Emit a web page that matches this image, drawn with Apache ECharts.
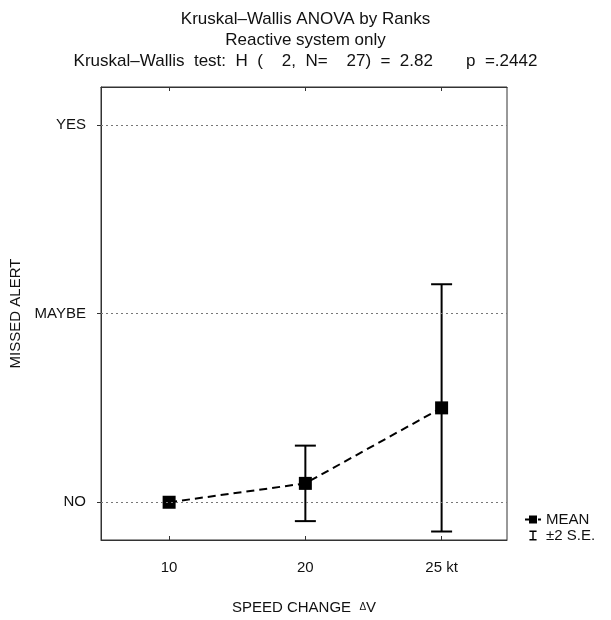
<!DOCTYPE html>
<html>
<head>
<meta charset="utf-8">
<script src="https://cdn.jsdelivr.net/npm/echarts@6/dist/echarts.min.js"></script>
<style>html,body{margin:0;padding:0;background:#fff}#c{width:611px;height:620px}</style>
</head>
<body>
<div id="c"></div>
<script>
// ---- data ----
var categories = ['10', '20', '25 kt'];
var meanValues = [0, 0.10, 0.50];
var seLow = [0, -0.10, -0.155];
var seHigh = [0, 0.30, 1.155];
var yTickValues = [0, 1, 2];
var yTickLabels = ['NO', 'MAYBE', 'YES'];
var titleLines = ['Kruskal\u2013Wallis ANOVA by Ranks', 'Reactive system only', 'Kruskal\u2013Wallis  test:  H  (    2,  N=    27)  =  2.82       p  =.2442'];

var FONT = "'Liberation Sans', Arial, sans-serif";
var chart = echarts.init(document.getElementById('c'), null, {renderer: 'canvas'});

var lineData = meanValues.map(function (v, i) { return [i, v]; });
var errData = categories.map(function (c, i) { return [i, seLow[i], seHigh[i]]; });

chart.setOption({
  animation: false,
  backgroundColor: '#fff',
  title: {
    text: titleLines.join('\n'),
    left: 'center',
    top: 4,
    textStyle: {fontFamily: FONT, fontSize: 17, fontWeight: 'normal', color: '#111', lineHeight: 21}
  },
  legend: {
    orient: 'vertical',
    left: 519,
    top: 507,
    itemGap: 1,
    itemWidth: 16,
    itemHeight: 10,
    textStyle: {fontFamily: FONT, fontSize: 15, color: '#111'},
    data: [
      {name: 'MEAN'},
      {name: '\u00b12 S.E.', icon: 'path://M0,0H10V2H6V12H10V14H0V12H4V2H0Z'}
    ]
  },
  grid: {left: 98, right: 104, top: 87, bottom: 73, show: true, borderColor: '#333', borderWidth: 1},
  xAxis: [{
    type: 'value',
    min: -0.5,
    max: 2.48,
    splitLine: {show: false},
    axisLine: {show: true, onZero: false, lineStyle: {color: '#333', width: 1}},
    axisTick: {show: true, inside: true, length: 4, customValues: [0, 1, 2], lineStyle: {color: '#333'}},
    axisLabel: {
      customValues: [0, 1, 2],
      margin: 20,
      fontFamily: FONT, fontSize: 15, color: '#111',
      formatter: function (v) { return categories[Math.round(v)]; }
    },
    name: 'SPEED CHANGE  {d|\u0394}V',
    nameLocation: 'middle',
    nameGap: 60,
    nameTextStyle: {fontFamily: FONT, fontSize: 15, color: '#111', rich: {d: {fontSize: 10, fontFamily: FONT, color: '#111'}}}
  }, {
    type: 'value',
    position: 'top',
    min: -0.5,
    max: 2.48,
    splitLine: {show: false},
    axisLine: {show: true, onZero: false, lineStyle: {color: '#333', width: 1}},
    axisTick: {show: true, inside: true, length: 4, customValues: [0, 1, 2], lineStyle: {color: '#333'}},
    axisLabel: {show: false}
  }],
  yAxis: {
    type: 'value',
    min: -0.2,
    max: 2.2,
    splitLine: {show: false},
    axisLine: {show: true, onZero: false, lineStyle: {color: '#333', width: 1}},
    axisTick: {show: true, length: 4, customValues: yTickValues, lineStyle: {color: '#333'}},
    axisLabel: {
      customValues: yTickValues,
      margin: 15,
      fontFamily: FONT, fontSize: 15, color: '#111',
      formatter: function (v) { return yTickLabels[yTickValues.indexOf(Math.round(v))]; }
    },
    name: 'MISSED ALERT',
    nameLocation: 'middle',
    nameRotate: 90,
    nameGap: 78,
    nameTextStyle: {fontFamily: FONT, fontSize: 15, color: '#111'}
  },
  series: [
    {
      name: 'gridlines',
      type: 'line',
      data: [],
      markLine: {
        silent: true,
        symbol: 'none',
        label: {show: false},
        lineStyle: {color: '#777', type: [2, 3], width: 1},
        data: yTickValues.map(function (v) { return {yAxis: v}; })
      }
    },
    {
      name: '\u00b12 S.E.',
      type: 'custom',
      itemStyle: {color: '#000'},
      data: errData,
      z: 3,
      renderItem: function (params, api) {
        var x = api.value(0);
        var lo = api.coord([x, api.value(1)]);
        var hi = api.coord([x, api.value(2)]);
        if (Math.abs(hi[1] - lo[1]) < 1) return null;
        var half = 10.5;
        var st = {stroke: '#000', lineWidth: 2};
        return {
          type: 'group',
          children: [
            {type: 'line', shape: {x1: lo[0], y1: lo[1], x2: hi[0], y2: hi[1]}, style: st},
            {type: 'line', shape: {x1: hi[0] - half, y1: hi[1], x2: hi[0] + half, y2: hi[1]}, style: st},
            {type: 'line', shape: {x1: lo[0] - half, y1: lo[1], x2: lo[0] + half, y2: lo[1]}, style: st}
          ]
        };
      }
    },
    {
      name: 'MEAN',
      type: 'line',
      data: lineData,
      symbol: 'rect',
      symbolSize: 13,
      z: 4,
      itemStyle: {color: '#000'},
      lineStyle: {color: '#000', width: 2, type: [8, 5]}
    }
  ]
});
</script>
</body>
</html>
